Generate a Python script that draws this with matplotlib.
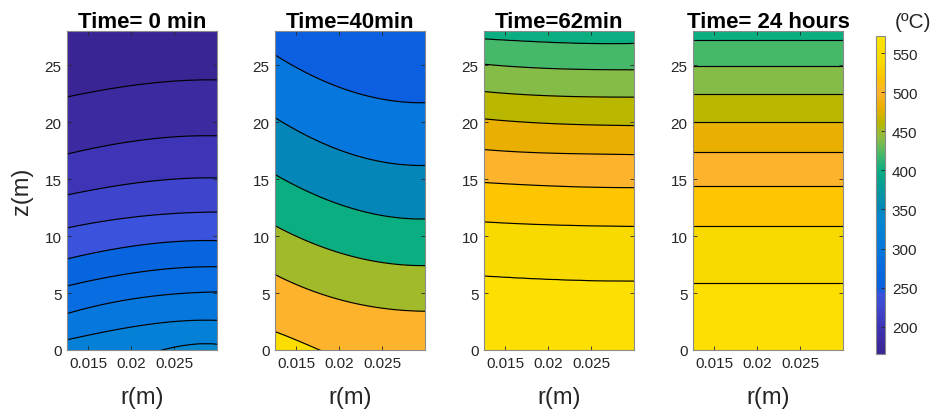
import numpy as np
import matplotlib
matplotlib.use("Agg")
import matplotlib.pyplot as plt
from matplotlib.colors import LinearSegmentedColormap, Normalize
from matplotlib.cm import ScalarMappable

plt.rcParams['font.family'] = ['Liberation Sans', 'DejaVu Sans']

# renk skalasi (parula gibi), resimdeki bantlardan okunan renkler
cmap_temps = [165, 180, 200, 220, 240, 250, 260, 280, 300, 320, 340, 350, 400,
              420, 440, 450, 460, 480, 500, 520, 540, 560, 572]
cmap_colors = ['#3b2594', '#3c2aa2', '#3d34b6', '#3e45cc', '#3a52dc', '#0a60e0',
               '#0865e0', '#086de0', '#0677dc', '#0481d6', '#0888d0', '#0486b8',
               '#0aae80', '#45b86b', '#87bc47', '#9fba2c', '#b8b700', '#e8b000',
               '#fdb42c', '#fdc500', '#f9da00', '#fde000', '#fbe40a']
t_min, t_max = 165, 572

# kolonlar: r degerleri, her seviye icin z'de kontur cizgisinin yeri
r_cols = [0.0125, 0.015, 0.0175, 0.02, 0.025, 0.03]

titles = ['Time= 0 min', 'Time=40min', 'Time=62min', 'Time= 24 hours']

levels_0 = [160, 180, 200, 220, 240, 260, 280, 300, 320, 340, 360]
z_0 = [[32.0, 32.0, 32.0, 32.0, 32.0, 32.0],
       [22.2, 22.6, 22.9, 23.2, 23.6, 23.7],
       [17.2, 17.6, 18.0, 18.3, 18.7, 18.8],
       [13.6, 14.0, 14.3, 14.6, 15.0, 15.1],
       [10.7, 11.1, 11.4, 11.6, 12.0, 12.1],
       [8.0, 8.4, 8.8, 9.1, 9.5, 9.6],
       [5.6, 6.1, 6.4, 6.7, 7.2, 7.3],
       [3.2, 3.7, 4.1, 4.5, 4.9, 5.1],
       [0.9, 1.3, 1.7, 2.0, 2.5, 2.6],
       [-2.4, -1.9, -1.4, -0.9, 0.3, 0.5],
       [-4.0, -4.0, -4.0, -4.0, -4.0, -4.0]]

levels_40 = [250, 300, 350, 400, 450, 500, 550, 600]
z_40 = [[31.0, 31.0, 31.0, 31.0, 31.0, 31.0],
        [25.9, 24.8, 23.8, 23.1, 22.0, 21.7],
        [20.4, 19.3, 18.3, 17.6, 16.5, 16.2],
        [15.4, 14.4, 13.5, 12.8, 11.8, 11.5],
        [10.9, 10.0, 9.2, 8.5, 7.7, 7.4],
        [6.6, 5.8, 5.0, 4.4, 3.7, 3.4],
        [1.6, 0.9, 0.1, -0.8, -2.0, -2.5],
        [-6.0, -6.0, -6.0, -6.0, -6.0, -6.0]]

levels_62 = [400, 420, 440, 460, 480, 500, 520, 540, 560, 580]
z_62 = [[31.0, 31.0, 31.0, 31.0, 31.0, 31.0],
        [27.3, 27.2, 27.1, 27.0, 26.9, 26.9],
        [25.1, 24.9, 24.8, 24.75, 24.6, 24.6],
        [22.7, 22.5, 22.4, 22.35, 22.2, 22.2],
        [20.3, 20.1, 20.0, 19.9, 19.75, 19.7],
        [17.6, 17.45, 17.35, 17.3, 17.2, 17.15],
        [14.7, 14.6, 14.5, 14.4, 14.3, 14.25],
        [11.25, 11.15, 11.05, 11.0, 10.9, 10.85],
        [6.5, 6.4, 6.3, 6.2, 6.1, 6.05],
        [-4.0, -4.0, -4.0, -4.0, -4.0, -4.0]]

levels_24h = [400, 420, 440, 460, 480, 500, 520, 540, 560, 580]
z_24h = [[31.0, 31.0, 31.0, 31.0, 31.0, 31.0],
         [27.25, 27.25, 27.25, 27.25, 27.25, 27.25],
         [24.9, 24.9, 24.9, 24.9, 24.9, 24.9],
         [22.5, 22.5, 22.5, 22.5, 22.5, 22.5],
         [20.0, 20.0, 20.0, 20.0, 20.0, 20.0],
         [17.35, 17.35, 17.35, 17.35, 17.35, 17.35],
         [14.4, 14.4, 14.4, 14.4, 14.4, 14.4],
         [10.9, 10.9, 10.9, 10.9, 10.9, 10.9],
         [5.85, 5.85, 5.85, 5.85, 5.85, 5.85],
         [-4.0, -4.0, -4.0, -4.0, -4.0, -4.0]]

panels = [(levels_0, z_0), (levels_40, z_40), (levels_62, z_62), (levels_24h, z_24h)]

pos = [(t - t_min) / (t_max - t_min) for t in cmap_temps]
cmap = LinearSegmentedColormap.from_list('parula_like', list(zip(pos, cmap_colors)))
norm = Normalize(t_min, t_max)

r_fine = np.linspace(0.0125, 0.03, 150)
z_fine = np.linspace(-6, 32, 600)
R, Z = np.meshgrid(r_fine, z_fine)


def make_field(levels, zc):
    zc = np.array(zc, float)
    lv = np.array(levels, float)
    # her kontur cizgisini r boyunca yumusat (3. derece egri)
    rc = (np.array(r_cols) - 0.02) * 100
    rf = (r_fine - 0.02) * 100
    zs = np.array([np.polyval(np.polyfit(rc, row, 3), rf) for row in zc])
    T = np.zeros((len(z_fine), len(r_fine)))
    for j in range(len(r_fine)):
        # z artan sirada olmali
        T[:, j] = np.interp(z_fine, zs[::-1, j], lv[::-1])
    return T


W, H = 938, 414
fig = plt.figure(figsize=(W / 100, H / 100), dpi=100)
lefts = [67, 275, 484, 693]
tick_col = '#262626'

for i, (levels, zc) in enumerate(panels):
    ax = fig.add_axes([lefts[i] / W, 1 - 351 / H, 150 / W, 319 / H])
    T = make_field(levels, zc)
    # MATLAB gibi: her bant alt seviyenin rengini alir
    band_colors = [cmap(norm(l)) for l in levels[:-1]]
    ax.contourf(R, Z, T, levels=levels, colors=band_colors)
    ax.contour(R, Z, T, levels=levels[1:-1], colors='k', linewidths=0.85)
    ax.set_xlim(0.0125, 0.03)
    ax.set_ylim(0, 28)
    ax.set_xticks([0.015, 0.02, 0.025])
    ax.set_xticklabels(['0.015', '0.02', '0.025'])
    ax.set_yticks([0, 5, 10, 15, 20, 25])
    ax.tick_params(direction='in', top=True, right=True, length=3, width=0.6,
                   labelsize=11, colors=tick_col, pad=4)
    for s in ax.spines.values():
        s.set_edgecolor('#8a8a8a')
        s.set_linewidth(0.8)
    ax.set_title(titles[i], fontsize=16, fontweight='bold', pad=3)
    ax.set_xlabel('r(m)', fontsize=17, color=tick_col, labelpad=12)
    if i == 0:
        ax.set_ylabel('z(m)', fontsize=17, color=tick_col, labelpad=8)

cax = fig.add_axes([876 / W, 1 - 355 / H, 9 / W, 318 / H])
cb = fig.colorbar(ScalarMappable(norm=norm, cmap=cmap), cax=cax)
cb.set_ticks([200, 250, 300, 350, 400, 450, 500, 550])
cb.ax.tick_params(direction='in', length=3, width=0.6, labelsize=11,
                  colors=tick_col, pad=5)
cb.outline.set_edgecolor('#8a8a8a')
cb.outline.set_linewidth(0.8)
fig.text(913 / W, 1 - 22 / H, '(ºC)', fontsize=15, ha='center', va='center',
         color=tick_col)

plt.savefig('out.png', dpi=100)
